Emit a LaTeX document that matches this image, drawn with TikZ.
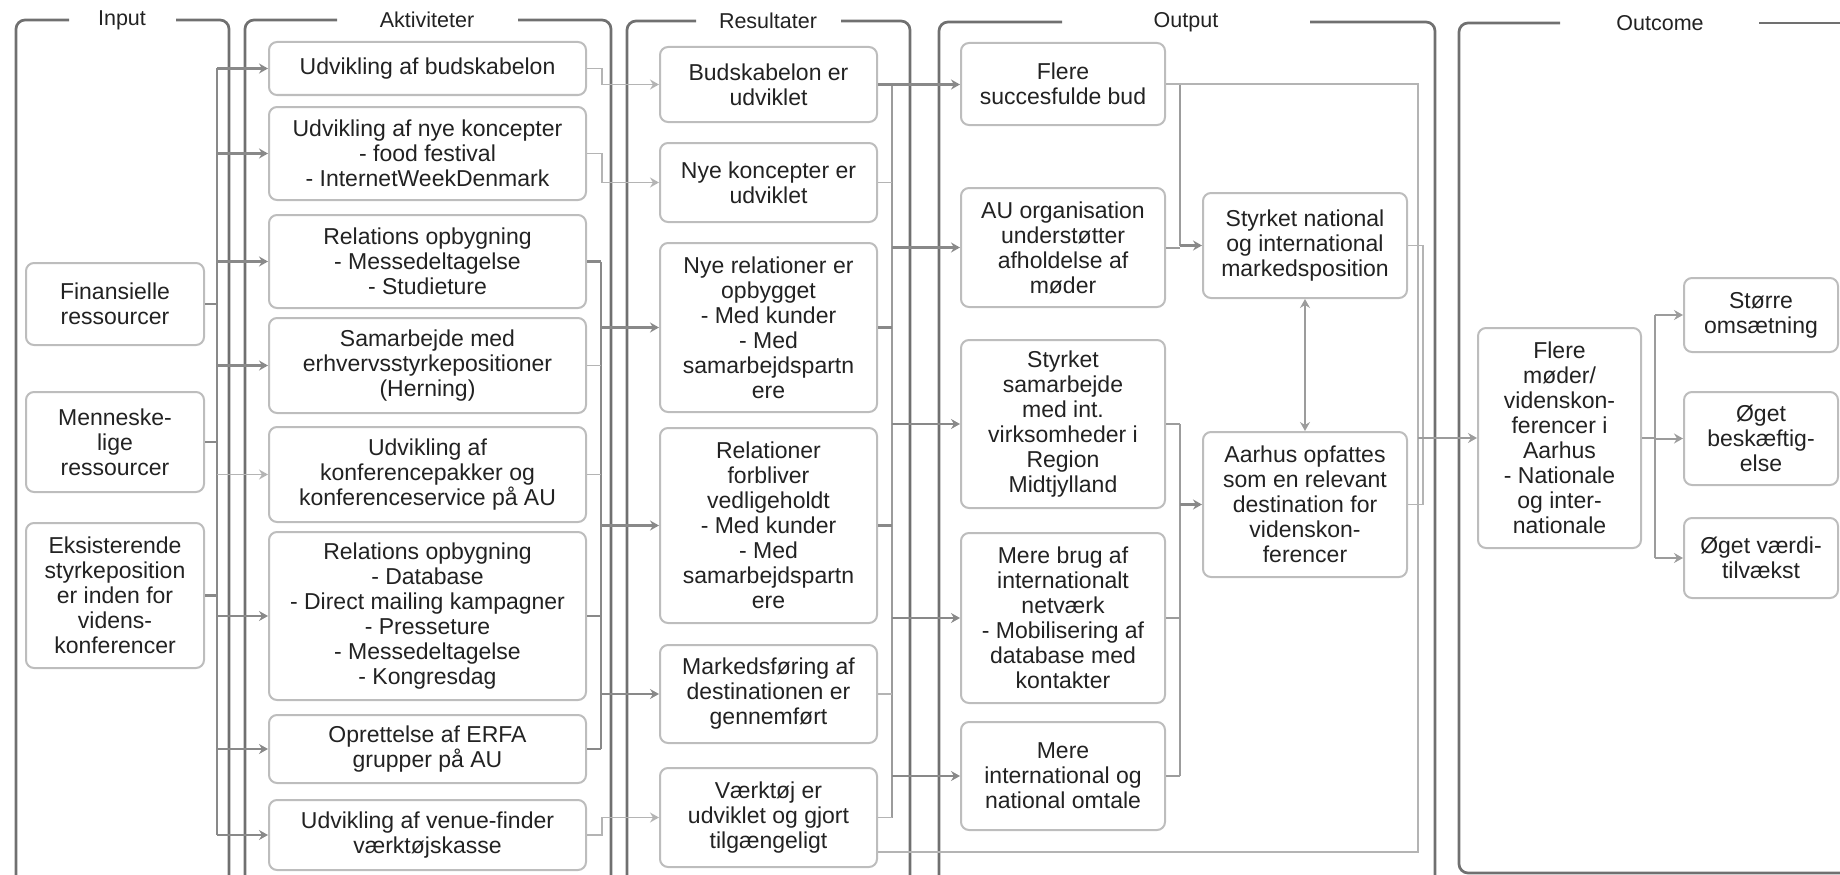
\documentclass[tikz,border=0pt]{standalone}
\usepackage{fontspec}
\setmainfont{Liberation Sans}
\usetikzlibrary{arrows.meta}
\definecolor{framegray}{HTML}{707070}
\definecolor{conndark}{HTML}{898989}
\definecolor{connmid}{HTML}{9C9C9C}
\definecolor{connlight}{HTML}{B4B4B4}
\definecolor{boxline}{HTML}{BDBDBD}
\definecolor{txt}{HTML}{222222}
\begin{document}
\begin{tikzpicture}[x=1pt,y=-1pt,
  frame/.style={draw=framegray, line width=2.7pt, rounded corners=9pt},
  bx/.style={draw=boxline, line width=2pt, rounded corners=8pt, fill=white,
    align=center, text=txt, font=\fontsize{23}{25}\selectfont, inner sep=2pt},
  ttl/.style={text=txt, font=\fontsize{21.5}{24}\selectfont, inner sep=0pt},
  dk/.style={draw=conndark, line width=2.3pt},
  md/.style={draw=connmid, line width=2pt},
  lt/.style={draw=connlight, line width=1.7pt},
  tip/.style={-{Stealth[length=9pt,width=10pt,inset=3pt]}},
  tips/.style={{Stealth[length=9pt,width=10pt,inset=3pt]}-{Stealth[length=9pt,width=10pt,inset=3pt]}},
]
\useasboundingbox (0,0) rectangle (1840,875);
\clip (0,0) rectangle (1840,875);

% column frames with their titles
\draw[frame] (69,20) -- (16,20) -- (16,885);
\draw[frame] (176,20) -- (229,20) -- (229,885);
\draw[frame] (337,20) -- (245,20) -- (245,885);
\draw[frame] (518,20) -- (611,20) -- (611,885);
\draw[frame] (696,21) -- (627,21) -- (627,885);
\draw[frame] (841,21) -- (910,21) -- (910,885);
\draw[frame] (1062,22) -- (939,22) -- (939,885);
\draw[frame] (1310,22) -- (1435,22) -- (1435,885);
\draw[frame] (1560,23) -- (1459,23) -- (1459,873) -- (1860,873);
\draw[frame] (1759,23) -- (1860,23);
\node[ttl] (tIn) at (122,20) {Input};
\node[ttl] (tAkt) at (427,20) {Aktiviteter};
\node[ttl] (tRes) at (768,21) {Resultater};
\node[ttl] (tOut) at (1186,22) {Output};
\node[ttl] (tOc) at (1660,23) {Outcome};

% Input
\node[bx, minimum width=178pt, minimum height=82pt] (I1) at (115,304) {Finansielle\\ressourcer};
\node[bx, minimum width=178pt, minimum height=100pt] (I2) at (115,442) {Menneske-\\lige\\ressourcer};
\node[bx, minimum width=178pt, minimum height=145pt] (I3) at (115,595.5) {Eksisterende\\styrkeposition\\er inden for\\videns-\\konferencer};

% Aktiviteter
\node[bx, minimum width=317pt, minimum height=53pt] (A1) at (427.5,68.5) {Udvikling af budskabelon};
\node[bx, minimum width=317pt, minimum height=93pt] (A2) at (427.5,153.5) {Udvikling af nye koncepter\\- food festival\\- InternetWeekDenmark};
\node[bx, minimum width=317pt, minimum height=93pt] (A3) at (427.5,261.5) {Relations opbygning\\- Messedeltagelse\\- Studieture};
\node[bx, minimum width=317pt, minimum height=95pt] (A4) at (427.5,365.5) {Samarbejde med\\erhvervsstyrkepositioner\\(Herning)};
\node[bx, minimum width=317pt, minimum height=95pt] (A5) at (427.5,474.5) {Udvikling af\\konferencepakker og\\konferenceservice på AU};
\node[bx, minimum width=317pt, minimum height=168pt] (A6) at (427.5,616) {Relations opbygning\\- Database\\- Direct mailing kampagner\\- Presseture\\- Messedeltagelse\\- Kongresdag};
\node[bx, minimum width=317pt, minimum height=68pt] (A7) at (427.5,749) {Oprettelse af ERFA\\grupper på AU};
\node[bx, minimum width=317pt, minimum height=70pt] (A8) at (427.5,835) {Udvikling af venue-finder\\værktøjskasse};

% Resultater
\node[bx, minimum width=217pt, minimum height=75pt] (R1) at (768.5,84.5) {Budskabelon er\\udviklet};
\node[bx, minimum width=217pt, minimum height=79pt] (R2) at (768.5,182.5) {Nye koncepter er\\udviklet};
\node[bx, minimum width=217pt, minimum height=169pt] (R3) at (768.5,327.5) {Nye relationer er\\opbygget\\- Med kunder\\- Med\\samarbejdspartn\\ere};
\node[bx, minimum width=217pt, minimum height=195pt] (R4) at (768.5,525.5) {Relationer\\forbliver\\vedligeholdt\\- Med kunder\\- Med\\samarbejdspartn\\ere};
\node[bx, minimum width=217pt, minimum height=98pt] (R5) at (768.5,694) {Markedsføring af\\destinationen er\\gennemført};
\node[bx, minimum width=217pt, minimum height=99pt] (R6) at (768.5,817.5) {Værktøj er\\udviklet og gjort\\tilgængeligt};

% Output
\node[bx, minimum width=204pt, minimum height=82pt] (O1) at (1063,84) {Flere\\succesfulde bud};
\node[bx, minimum width=204pt, minimum height=119pt] (O2) at (1063,247.5) {AU organisation\\understøtter\\afholdelse af\\møder};
\node[bx, minimum width=204pt, minimum height=168pt] (O3) at (1063,424) {Styrket\\samarbejde\\med int.\\virksomheder i\\Region\\Midtjylland};
\node[bx, minimum width=204pt, minimum height=170pt] (O4) at (1063,618) {Mere brug af\\internationalt\\netværk\\- Mobilisering af\\database med\\kontakter};
\node[bx, minimum width=204pt, minimum height=108pt] (O5) at (1063,776) {Mere\\international og\\national omtale};
\node[bx, minimum width=204pt, minimum height=105pt] (M1) at (1305,245.5) {Styrket national\\og international\\markedsposition};
\node[bx, minimum width=204pt, minimum height=145pt] (M2) at (1305,504.5) {Aarhus opfattes\\som en relevant\\destination for\\videnskon-\\ferencer};

% Outcome
\node[bx, minimum width=163pt, minimum height=220pt] (Oc1) at (1559.5,438) {Flere\\møder/\\videnskon-\\ferencer i\\Aarhus\\- Nationale\\og inter-\\nationale};
\node[bx, minimum width=154pt, minimum height=74pt] (S1) at (1761,315) {Større\\omsætning};
\node[bx, minimum width=154pt, minimum height=93pt] (S2) at (1761,438.5) {Øget\\beskæftig-\\else};
\node[bx, minimum width=154pt, minimum height=80pt] (S3) at (1761,558) {Øget værdi-\\tilvækst};

% Input -> Aktiviteter
\coordinate (ib1) at (217,68.5);
\coordinate (ib2) at (217,835);
\draw[dk] (ib1) -- (ib2);
\foreach \n in {I1,I2,I3} \draw[dk] (\n.east) -- (\n.east -| ib1);
\foreach \n in {A1,A2,A3,A4,A6,A7,A8} \draw[dk,tip] (\n.west -| ib1) -- (\n.west);
\draw[lt,tip] (A5.west -| ib1) -- (A5.west);

% Aktiviteter -> Resultater
\draw[lt,tip] (A1.east) -- ++(15,0) |- (R1.west);
\draw[lt,tip] (A2.east) -- ++(15,0) |- (R2.west);
\draw[lt,tip] (A8.east) -- ++(15,0) |- (R6.west);
\coordinate (ab1) at (601,261.5);
\coordinate (ab2) at (601,749);
\draw[dk] (ab1) -- (ab2);
\foreach \n in {A3,A6,A7} \draw[dk] (\n.east) -- (\n.east -| ab1);
\foreach \n in {A4,A5} \draw[lt] (\n.east) -- (\n.east -| ab1);
\foreach \n in {R3,R4,R5} \draw[dk,tip] (\n.west -| ab1) -- (\n.west);

% Resultater -> Output
\coordinate (rb1) at (892,84.5);
\coordinate (rb2) at (892,817.5);
\draw[md] (rb1) -- (rb2);
\draw[dk,tip] (R1.east) -- (R1.east -| O1.west);
\foreach \n in {R3,R4} \draw[dk] (\n.east) -- (\n.east -| rb1);
\foreach \n in {R2,R5,R6} \draw[lt] (\n.east) -- (\n.east -| rb1);
\foreach \n in {O2,O3,O4,O5} \draw[dk,tip] (\n.west -| rb1) -- (\n.west);

% Output -> middle boxes
\coordinate (mj) at (1180,245.5);
\draw[md] (O1.east) -| (mj);
\draw[md] (O2.east) -- (O2.east -| mj);
\draw[dk,tip] (mj) -- (M1.west);
\coordinate (ob1) at (1180,424);
\coordinate (ob2) at (1180,776);
\draw[md] (ob1) -- (ob2);
\foreach \n in {O3,O4,O5} \draw[md] (\n.east) -- (\n.east -| ob1);
\draw[dk,tip] (M2.west -| ob1) -- (M2.west);
\draw[md,tips] (M1.south) -- (M2.north);

% -> Outcome
\coordinate (jx) at (1418,438);
\coordinate (jx2) at (1423,438);
\draw[lt] (O1.east) -| (jx);
\draw[lt] ([yshift=-34.5pt]R6.east) -| (jx);
\draw[lt] (M1.east) -| (jx2);
\draw[lt] (M2.east) -| (jx2);
\draw[md,tip] (jx) -- (Oc1.west);

% Outcome -> effects
\coordinate (sb1) at (1655,315);
\coordinate (sb2) at (1655,558);
\draw[md] (sb1) -- (sb2);
\draw[md] (Oc1.east) -- (Oc1.east -| sb1);
\foreach \n in {S1,S2,S3} \draw[md,tip] (\n.west -| sb1) -- (\n.west);
\end{tikzpicture}
\end{document}
